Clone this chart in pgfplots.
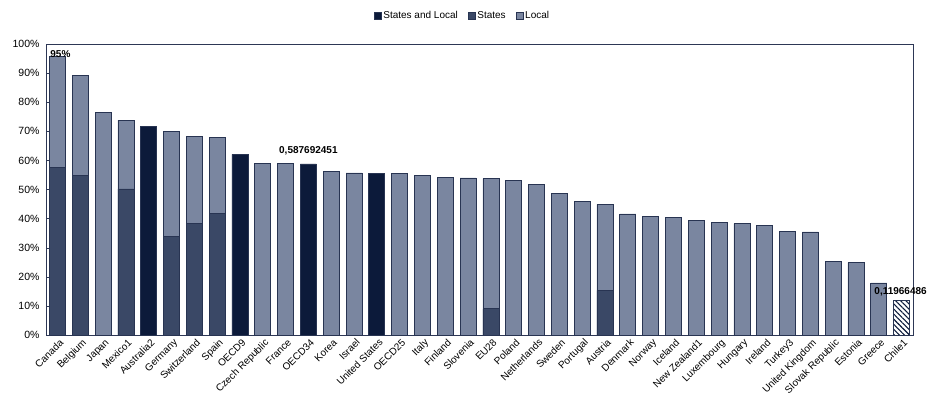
\documentclass[border=0pt]{standalone}
\usepackage{pgfplots}
\pgfplotsset{compat=1.18}
\usepackage{fontspec}
\setmainfont{Liberation Sans}
\usetikzlibrary{patterns.meta}
\definecolor{cSL}{RGB}{12,26,58}
\definecolor{cSt}{RGB}{58,72,102}
\definecolor{cLo}{RGB}{122,134,160}
\definecolor{cBd}{RGB}{40,52,82}
\definecolor{cAx}{RGB}{45,55,85}
\begin{document}
\begin{tikzpicture}[x=1pt,y=1pt]
\path[use as bounding box] (0,0) rectangle (930,403);
\begin{axis}[
  at={(46pt,68pt)}, anchor=south west,
  scale only axis, width=867pt, height=291pt,
  xmin=-0.5, xmax=37.5, ymin=0, ymax=100,
  clip=false,
  axis line style={cAx, line width=0.8pt},
  ytick={0,10,...,100},
  ytick pos=left,
  yticklabel={\pgfmathprintnumber{\tick}\%},
  /pgf/number format/assume math mode=true,
  y tick label style={font=\fontsize{10.5}{10.5}\selectfont, xshift=-3pt},
  ytick style={cAx},
  major tick length=3pt,
  xtick={0,...,37},
  xticklabels={Canada,Belgium,Japan,Mexico1,Australia2,Germany,Switzerland,Spain,OECD9,Czech Republic,France,OECD34,Korea,Israel,United States,OECD25,Italy,Finland,Slovenia,EU28,Poland,Netherlands,Sweden,Portugal,Austria,Denmark,Norway,Iceland,New Zealand1,Luxembourg,Hungary,Ireland,Turkey3,United Kingdom,Slovak Republic,Estonia,Greece,Chile1},
  x tick label style={rotate=45, anchor=north east, font=\fontsize{10}{10}\selectfont, inner sep=1pt, xshift=2pt},
  x tick style={draw=none},
  ybar, bar width=16pt,
  every axis plot/.append style={bar shift=0pt, draw=cBd, line width=0.7pt},
  legend columns=3,
  legend style={at={(0.5,1)}, anchor=center, xshift=-17pt, yshift=28pt, draw=none, fill=none,
    font=\fontsize{10}{10}\selectfont,
    /tikz/every even column/.append style={column sep=8pt}},
  legend image code/.code={\draw[#1, line width=0.5pt] (0pt,-3.5pt) rectangle (7pt,3.5pt);},
]
\addlegendimage{fill=cSL, draw=cBd}
\addlegendentry{States and Local}
\addlegendimage{fill=cSt, draw=cBd}
\addlegendentry{States}
\addlegendimage{fill=cLo, draw=cBd}
\addlegendentry{Local}
% Local (top of stack = total)
\addplot[fill=cLo, forget plot] coordinates {
 (0,95.6) (1,89.1) (2,76.6) (3,73.8) (5,70.0) (6,68.3) (7,67.8)
 (9,59.1) (10,59.1) (12,56.1) (13,55.7) (15,55.4) (16,54.9) (17,54.1) (18,54.0)
 (19,53.7) (20,53.2) (21,51.6) (22,48.6) (23,45.9) (24,44.9) (25,41.6) (26,40.8)
 (27,40.3) (28,39.5) (29,38.7) (30,38.3) (31,37.6) (32,35.7) (33,35.4) (34,25.3)
 (35,24.9) (36,17.9)};
% States (lower part)
\addplot[fill=cSt, forget plot] coordinates {
 (0,57.5) (1,54.9) (3,50.2) (5,34.0) (6,38.4) (7,41.7) (19,9.0) (24,15.3)};
% States and Local
\addplot[fill=cSL, forget plot] coordinates {
 (4,71.6) (8,62.1) (11,58.77) (14,55.4)};
% Chile (hatched)
\addplot[fill=white, postaction={pattern={Lines[angle=-45, distance=3.6pt, line width=1.1pt]}, pattern color=cSL}, forget plot] coordinates {
 (37,11.966486)};
\node[font=\bfseries\fontsize{10}{10}\selectfont, anchor=south, inner sep=0pt, xshift=3pt, yshift=-1pt] at (axis cs:0,95.6) {95\%};
\node[font=\bfseries\fontsize{10}{10}\selectfont, anchor=south, inner sep=0pt, yshift=9pt] at (axis cs:11,58.77) {0,587692451};
\node[font=\bfseries\fontsize{10}{10}\selectfont, anchor=south, inner sep=0pt, yshift=4pt, xshift=-1pt] at (axis cs:37,11.966486) {0,11966486};
\end{axis}
\end{tikzpicture}
\end{document}
